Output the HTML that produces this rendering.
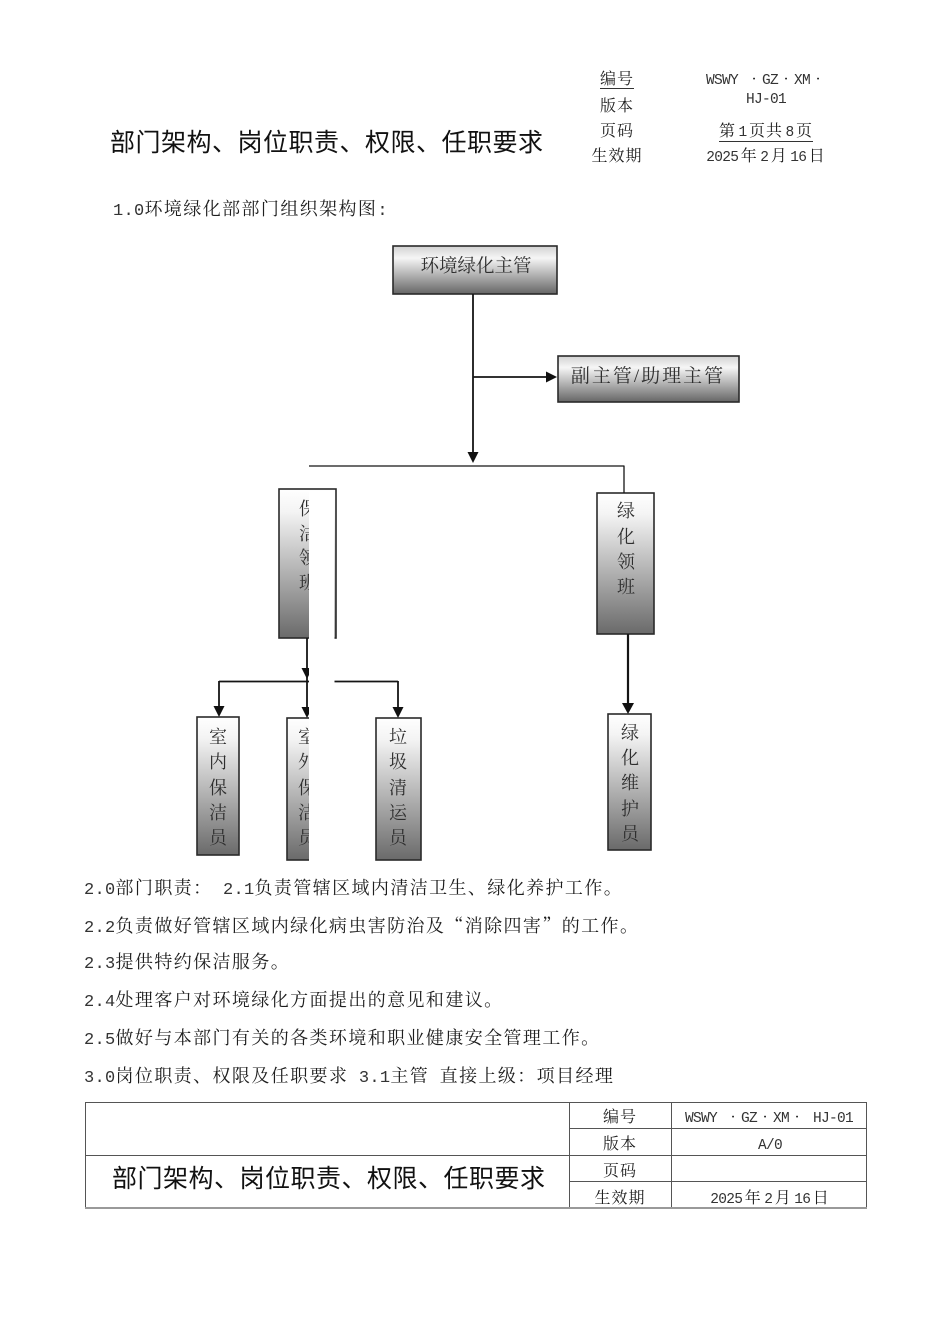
<!DOCTYPE html>
<html><head><meta charset="utf-8">
<style>
html,body{margin:0;padding:0;background:#fff;}
body{width:950px;height:1344px;position:relative;overflow:hidden;}
.t{position:absolute;white-space:nowrap;font-family:"Liberation Serif","Noto Serif CJK SC",serif;color:#1e1e1e;}
.s{font-family:"Liberation Sans","Noto Sans CJK SC",sans-serif;color:#111;}
.b{font-size:18px;line-height:18px;letter-spacing:1.4px;left:84px;}
.n{font-family:"Liberation Mono",monospace;font-size:17px;letter-spacing:0.3px;color:#333;}
.h{font-size:16px;line-height:16px;letter-spacing:1px;text-align:center;}
.m{font-family:"Liberation Mono",monospace;font-size:14.5px;letter-spacing:-0.7px;color:#333;}
.g{margin:0 2.5px;}
.d{display:inline-block;width:16px;text-align:center;letter-spacing:0;font-family:"Liberation Serif",serif;}
.q{font-family:"Noto Serif CJK SC",serif;}
.u{display:inline-block;border-bottom:1px solid #333;line-height:16px;}
</style></head><body>

<!-- header -->
<div class="t s" style="left:110px;top:131px;font-size:25px;line-height:25px;letter-spacing:0.5px;">部门架构、岗位职责、权限、任职要求</div>

<div class="t h" style="left:567px;width:100px;top:72px;"><span class="u">编号</span></div>
<div class="t h" style="left:567px;width:100px;top:99px;">版本</div>
<div class="t h" style="left:567px;width:100px;top:124px;">页码</div>
<div class="t h" style="left:567px;width:100px;top:149px;">生效期</div>

<div class="t h" style="left:686px;width:160px;top:72px;letter-spacing:0;"><span class="m">WSWY </span><span class="d">·</span><span class="m">GZ</span><span class="d">·</span><span class="m">XM</span><span class="d">·</span></div>
<div class="t h" style="left:686px;width:160px;top:91px;letter-spacing:0;"><span class="m">HJ-01</span></div>
<div class="t h" style="left:686px;width:160px;top:124px;"><span class="u">第<span class="m g">1</span>页共<span class="m g">8</span>页</span></div>
<div class="t h" style="left:686px;width:160px;top:149px;"><span class="m" style="margin-right:2.5px">2025</span>年<span class="m g">2</span>月<span class="m g">16</span>日</div>

<div class="t b" style="left:113px;top:200px;"><span class="n">1.0</span>环境绿化部部门组织架构图<span class="n">:</span></div>

<!-- diagram -->
<svg style="position:absolute;left:0;top:0;" width="950" height="1344" viewBox="0 0 950 1344">
<defs>
<linearGradient id="gh" x1="0" y1="0" x2="0" y2="1">
<stop offset="0" stop-color="#d2d2d2"/>
<stop offset="0.25" stop-color="#f6f6f6"/>
<stop offset="1" stop-color="#666"/>
</linearGradient>
<linearGradient id="gv" x1="0" y1="0" x2="0" y2="1">
<stop offset="0" stop-color="#ffffff"/>
<stop offset="0.15" stop-color="#f4f4f4"/>
<stop offset="1" stop-color="#6a6a6a"/>
</linearGradient>
</defs>
<g stroke="#2a2a2a" stroke-width="1.6">
<rect x="393" y="246" width="164" height="48" fill="url(#gh)"/>
<rect x="558" y="356" width="181" height="46" fill="url(#gh)"/>
<rect x="279" y="489" width="57" height="149" fill="url(#gv)"/>
<rect x="597" y="493" width="57" height="141" fill="url(#gv)"/>
<rect x="608" y="714" width="43" height="136" fill="url(#gv)"/>
<rect x="197" y="717" width="42" height="138" fill="url(#gv)"/>
<rect x="287" y="718" width="42" height="142" fill="url(#gv)"/>
<rect x="376" y="718" width="45" height="142" fill="url(#gv)"/>
</g>
<g stroke="#151515" stroke-width="1.8" fill="none">
<line x1="473" y1="294" x2="473" y2="455"/>
<line x1="473" y1="377" x2="548" y2="377"/>
<line x1="309" y1="466" x2="624.5" y2="466" stroke-width="1.3"/>
<line x1="624" y1="466" x2="624" y2="493" stroke-width="1.3"/>
<line x1="628" y1="634" x2="628" y2="705" stroke-width="2.2"/>
<line x1="307" y1="638" x2="307" y2="710"/>
<line x1="219" y1="681.5" x2="398" y2="681.5"/>
<line x1="219" y1="681" x2="219" y2="708"/>
<line x1="398" y1="681" x2="398" y2="709"/>
</g>
<g fill="#111">
<polygon points="467.5,452 478.5,452 473,463"/>
<polygon points="546,371.5 546,382.5 557,377"/>
<polygon points="622,703 634,703 628,714"/>
<polygon points="213.5,706 224.5,706 219,717"/>
<polygon points="301.5,707 312.5,707 307,718"/>
<polygon points="392.5,707 403.5,707 398,718"/>
<polygon points="301.5,668 312.5,668 307,679"/>
</g>
<g font-family="Noto Serif CJK SC, serif" fill="#2e2e2e" text-anchor="middle">
<text x="476" y="272" font-size="18.5">环境绿化主管</text>
<text x="648" y="382" font-size="19" letter-spacing="2" font-family="Liberation Serif, Noto Serif CJK SC, serif">副主管/助理主管</text>
<g font-size="18">
<text x="308" y="515">保</text><text x="308" y="540">洁</text><text x="308" y="564">领</text><text x="308" y="589">班</text>
<text x="626" y="517">绿</text><text x="626" y="543">化</text><text x="626" y="568">领</text><text x="626" y="593">班</text>
<text x="630" y="739">绿</text><text x="630" y="764">化</text><text x="630" y="789">维</text><text x="630" y="815">护</text><text x="630" y="840">员</text>
<text x="218" y="743">室</text><text x="218" y="768">内</text><text x="218" y="794">保</text><text x="218" y="819">洁</text><text x="218" y="844">员</text>
<text x="307" y="743">室</text><text x="307" y="768">外</text><text x="307" y="794">保</text><text x="307" y="819">洁</text><text x="307" y="844">员</text>
<text x="398" y="743">垃</text><text x="398" y="768">圾</text><text x="398" y="794">清</text><text x="398" y="819">运</text><text x="398" y="844">员</text>
</g>
</g>
<rect x="309" y="491" width="25.5" height="374" fill="#fff"/>

<!-- bottom table lines -->
<g stroke="#555" stroke-width="1" fill="none">
<line x1="85" y1="1102.5" x2="866" y2="1102.5"/>
<line x1="85.5" y1="1102" x2="85.5" y2="1208"/>
<line x1="866.5" y1="1102" x2="866.5" y2="1208"/>
<line x1="569.5" y1="1102" x2="569.5" y2="1208"/>
<line x1="671.5" y1="1102" x2="671.5" y2="1208"/>
<line x1="569" y1="1128.5" x2="866" y2="1128.5"/>
<line x1="85" y1="1155.5" x2="866" y2="1155.5"/>
<line x1="569" y1="1181.5" x2="866" y2="1181.5"/>
<line x1="85" y1="1208" x2="867" y2="1208" stroke="#999" stroke-width="2"/>
</g>
</svg>

<!-- body text -->
<div class="t b" style="top:879px;"><span class="n">2.0</span>部门职责：<span class="n"> 2.1</span>负责管辖区域内清洁卫生、绿化养护工作。</div>
<div class="t b" style="top:916px;"><span class="n">2.2</span>负责做好管辖区域内绿化病虫害防治及<span class="q">“</span>消除四害<span class="q">”</span>的工作。</div>
<div class="t b" style="top:953px;"><span class="n">2.3</span>提供特约保洁服务。</div>
<div class="t b" style="top:991px;"><span class="n">2.4</span>处理客户对环境绿化方面提出的意见和建议。</div>
<div class="t b" style="top:1029px;"><span class="n">2.5</span>做好与本部门有关的各类环境和职业健康安全管理工作。</div>
<div class="t b" style="top:1067px;"><span class="n">3.0</span>岗位职责、权限及任职要求<span class="n"> 3.1</span>主管<span class="n"> </span>直接上级：项目经理</div>

<!-- bottom table text -->
<div class="t s" style="left:112px;top:1167px;font-size:25px;line-height:25px;letter-spacing:0.5px;">部门架构、岗位职责、权限、任职要求</div>
<div class="t h" style="left:570px;width:100px;top:1110px;">编号</div>
<div class="t h" style="left:570px;width:100px;top:1137px;">版本</div>
<div class="t h" style="left:570px;width:100px;top:1164px;">页码</div>
<div class="t h" style="left:570px;width:100px;top:1191px;">生效期</div>
<div class="t h" style="left:672px;width:194px;top:1110px;letter-spacing:0;"><span class="m">WSWY  </span><span class="d">·</span><span class="m">GZ</span><span class="d">·</span><span class="m">XM</span><span class="d">·</span><span class="m"> HJ-01</span></div>
<div class="t h" style="left:672px;width:196px;top:1137px;letter-spacing:0;"><span class="m">A/0</span></div>
<div class="t h" style="left:672px;width:196px;top:1191px;"><span class="m" style="margin-right:2.5px">2025</span>年<span class="m g">2</span>月<span class="m g">16</span>日</div>

</body></html>
